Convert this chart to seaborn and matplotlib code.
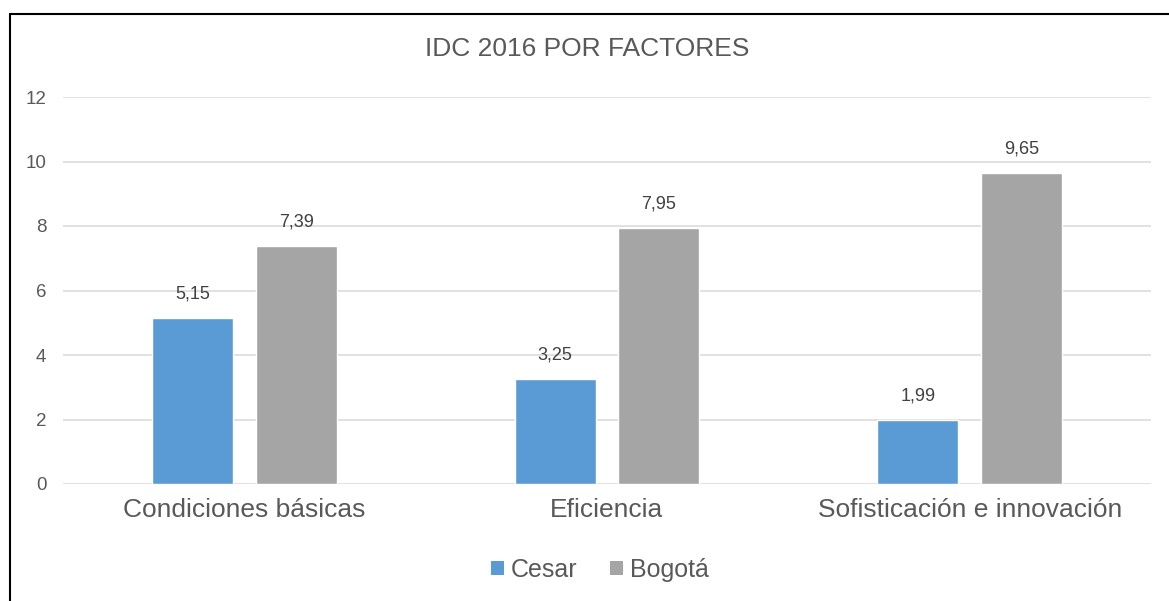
import matplotlib
matplotlib.use("Agg")
import matplotlib.pyplot as plt
import seaborn as sns
import pandas as pd
from matplotlib.patches import Patch
from matplotlib.lines import Line2D

categories = ["Condiciones básicas", "Eficiencia", "Sofisticación e innovación"]
series = ["Cesar", "Bogotá"]
cesar = [5.15, 3.25, 1.99]
bogota = [7.39, 7.95, 9.65]
yticks = [0, 2, 4, 6, 8, 10, 12]
title = "IDC 2016 POR FACTORES"
colors = ["#5B9BD5", "#A5A5A5"]

df = pd.DataFrame({
    "factor": categories * 2,
    "serie": [series[0]] * 3 + [series[1]] * 3,
    "valor": cesar + bogota,
})

sns.set_theme(style="white")
plt.rcParams["font.family"] = ["Liberation Sans", "DejaVu Sans"]

fig = plt.figure(figsize=(11.69, 6.01), dpi=100)
ax = fig.add_axes([63 / 1169, 1 - 484 / 601, (1151 - 63) / 1169, (484 - 97) / 601])

sns.barplot(data=df, x="factor", y="valor", hue="serie", palette=colors,
            width=0.573, gap=0.22, ax=ax, legend=False, saturation=1,
            order=categories, hue_order=series)

ax.set_xlim(-0.5, 2.5)
ax.set_ylim(0, 12)
ax.set_yticks(yticks)
ax.set_yticklabels([str(t) for t in yticks])
ax.grid(axis="y", color="#D9D9D9", linewidth=1.1)
ax.set_axisbelow(True)
for s in ax.spines.values():
    s.set_visible(False)
ax.set_xlabel("")
ax.set_ylabel("")
ax.tick_params(axis="y", length=0, pad=12, labelsize=13.5, labelcolor="#595959")
ax.tick_params(axis="x", length=0, pad=10, labelsize=19, labelcolor="#595959")

for cont in ax.containers:
    labels = [f"{b.get_height():.2f}".replace(".", ",") for b in cont]
    ax.bar_label(cont, labels=labels, padding=11, fontsize=13, color="#404040")

fig.text(587 / 1169, 1 - 49 / 601, title, ha="center", va="center",
         fontsize=19, color="#595959")

handles = [Patch(facecolor=c, edgecolor="none") for c in colors]
fig.legend(handles, series, loc="center", bbox_to_anchor=(600 / 1169, 1 - 570 / 601),
           ncol=2, frameon=False, fontsize=18, handlelength=0.5, handleheight=0.5,
           handletextpad=0.3, columnspacing=1.3, labelcolor="#595959")

fig.add_artist(Line2D([9.5 / 1169, 9.5 / 1169], [0, 1 - 13.5 / 601], color="black",
                      linewidth=1.5, transform=fig.transFigure))
fig.add_artist(Line2D([9.5 / 1169, 1], [1 - 13.5 / 601, 1 - 13.5 / 601], color="black",
                      linewidth=1.5, transform=fig.transFigure))

fig.savefig("out.png", dpi=100)
